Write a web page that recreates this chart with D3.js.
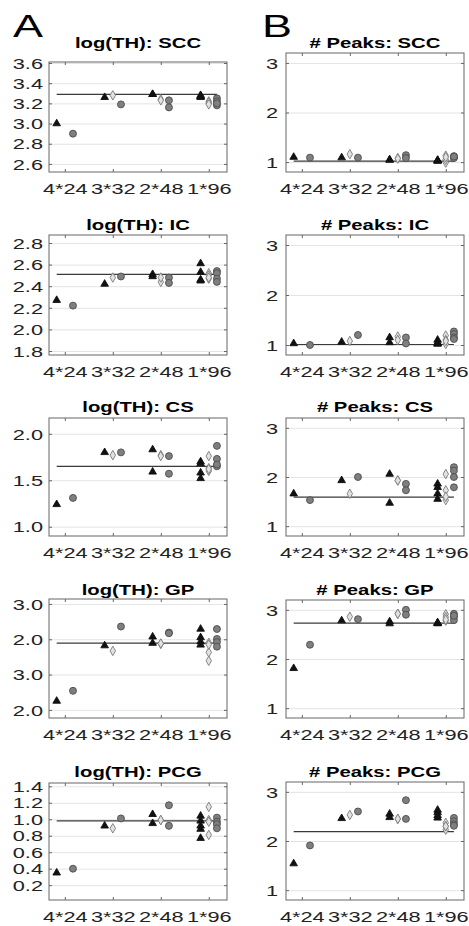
<!DOCTYPE html>
<html>
<head>
<meta charset="utf-8">
<script src="https://cdn.jsdelivr.net/npm/d3@7"></script>
<style>
  html, body { margin: 0; padding: 0; background: #fff; }
  svg { display: block; font-family: "Liberation Sans", Arial, Helvetica, sans-serif; }
</style>
</head>
<body>
<div id="chart"></div>
<script>
// categorias del eje x
const categories = ["4*24", "3*32", "2*48", "1*96"];

// cada panel: [triangulos, rombos, circulos], y dentro un array por categoria
const thSCC = [
  [[3.00], [3.26], [3.29, 3.29], [3.28, 3.27, 3.26, 3.27]],
  [[], [3.28], [3.24, 3.23], [3.22, 3.20, 3.21, 3.19]],
  [[2.90], [3.19], [3.23, 3.16], [3.25, 3.22, 3.18, 3.20]]
];
const thIC = [
  [[2.27], [2.42], [2.51, 2.49], [2.61, 2.53, 2.46, 2.45]],
  [[], [2.48], [2.44, 2.48], [2.52, 2.47, 2.50, 2.48]],
  [[2.22], [2.49], [2.48, 2.43], [2.54, 2.52, 2.47, 2.44]]
];
const thCS = [
  [[1.24], [1.80], [1.83, 1.59], [1.70, 1.68, 1.58, 1.52]],
  [[], [1.77], [1.77, 1.76], [1.76, 1.63, 1.60, 1.62]],
  [[1.31], [1.80], [1.76, 1.57], [1.87, 1.73, 1.65, 1.67]]
];
const thGP = [
  [[1.25], [2.82], [3.07, 2.89], [3.29, 3.05, 2.93, 2.84]],
  [[], [2.67], [2.87, 2.88], [2.63, 2.39, 2.90, 2.85]],
  [[1.54], [3.36], [3.19, 3.17], [3.29, 3.01, 2.92, 2.79]]
];
const thPCG = [
  [[0.35], [0.92], [1.06, 0.95], [1.04, 0.98, 0.92, 0.77, 0.88]],
  [[], [0.89], [0.99, 0.99], [1.15, 0.99, 0.81, 0.97]],
  [[0.40], [1.01], [1.17, 0.92], [1.02, 0.97, 0.94, 0.89]]
];
const pkSCC = [
  [[1.10], [1.09], [1.05, 1.04], [1.03, 1.04, 1.03, 1.02]],
  [[], [1.16], [1.08, 1.07], [1.13, 0.99, 1.05, 1.10]],
  [[1.09], [1.09], [1.14, 1.08], [1.12, 1.10, 1.08, 1.11]]
];
const pkIC = [
  [[1.03], [1.06], [1.15, 1.05], [1.10, 1.05, 1.03, 1.02]],
  [[], [1.08], [1.17, 1.10], [1.19, 1.10, 1.02, 1.08]],
  [[1.00], [1.20], [1.15, 1.03], [1.27, 1.22, 1.15, 1.12]]
];
const pkCS = [
  [[1.66], [1.93], [2.06, 1.47], [1.86, 1.79, 1.66, 1.55]],
  [[], [1.66], [1.93, 1.93], [2.06, 1.73, 1.53, 1.60]],
  [[1.53], [2.00], [1.86, 1.73], [2.20, 2.13, 2.00, 1.79]]
];
const pkGP = [
  [[1.81], [2.78], [2.76, 2.72], [2.73, 2.72, 2.74, 2.73]],
  [[], [2.86], [2.92, 2.92], [2.91, 2.78, 2.85, 2.80]],
  [[2.29], [2.81], [3.00, 2.90], [2.92, 2.86, 2.79, 2.88]]
];
const pkPCG = [
  [[1.54], [2.46], [2.55, 2.48], [2.63, 2.58, 2.52, 2.47]],
  [[], [2.53], [2.45, 2.45], [2.37, 2.23, 2.30, 2.30]],
  [[1.91], [2.60], [2.83, 2.45], [2.47, 2.40, 2.34, 2.31]]
];

// lineas horizontales (media)
const thMeans = [3.29, 2.51, 1.65, 2.89, 0.98];
const pkMeans = [1.02, 1.01, 1.59, 2.73, 2.19];

// titulos
const thTitles = ["log(TH): SCC", "log(TH): IC", "log(TH): CS", "log(TH): GP", "log(TH): PCG"];
const pkTitles = ["# Peaks: SCC", "# Peaks: IC", "# Peaks: CS", "# Peaks: GP", "# Peaks: PCG"];

// ticks y limites del eje y
const thTicks = [
  [2.6, 2.8, 3.0, 3.2, 3.4, 3.6],
  [1.8, 2.0, 2.2, 2.4, 2.6, 2.8],
  [1.0, 1.5, 2.0],
  [1, 2, 3, 4],
  [0.2, 0.4, 0.6, 0.8, 1.0, 1.2, 1.4]
];
const thGPTickLabels = ["2.0", "3.0", "2.0", "3.0"];
const thLimits = [[2.52, 3.61], [1.763, 2.874], [0.90, 2.17], [0.77, 4.14], [0.02, 1.44]];
const pkTicks = [1, 2, 3];
const pkLimits = [0.8, 3.2];

// disposicion
const W = 469, H = 926;
const boxW = 178;
const boxBottom = [172, 355, 536, 718, 900];
const topA = [62, 235, 418, 599, 783];
const topB = [53, 235, 418, 600, 782];
const titleY = [48, 230, 412, 595, 777];
const SX = 1.5; // la figura original esta estirada horizontalmente

const svg = d3.select("#chart").append("svg")
  .attr("width", W)
  .attr("height", H);

// letras de panel
svg.append("text")
  .attr("transform", `translate(13,37) scale(1.45,1)`)
  .attr("font-size", 31)
  .text("A");
svg.append("text")
  .attr("transform", `translate(262,37) scale(1.45,1)`)
  .attr("font-size", 31)
  .text("B");

function drawPanel(left, top, bottom, data, mean, title, ticks, limits, tickFmt, labelGap, tY) {
  const h = bottom - top;
  const g = svg.append("g").attr("transform", `translate(${left},${top})`);

  const x = d3.scaleLinear().domain([0.67, 4.38]).range([0, boxW]);
  const y = d3.scaleLinear().domain(limits).range([h, 0]);

  // rejilla
  g.append("g")
    .call(d3.axisLeft(y).tickValues(ticks).tickSize(-boxW).tickFormat(""))
    .call(a => a.select(".domain").remove())
    .call(a => a.selectAll("line").attr("stroke", "#e4e4e4"));

  // caja
  g.append("rect")
    .attr("width", boxW)
    .attr("height", h)
    .attr("fill", "none")
    .attr("stroke", "#666")
    .attr("stroke-width", 1);

  const xt = [1, 2, 3, 4];

  // eje x abajo
  g.append("g")
    .attr("transform", `translate(0,${h})`)
    .call(d3.axisBottom(x).tickValues(xt).tickSize(-3).tickPadding(11.5)
      .tickFormat((d, i) => categories[i]))
    .call(a => a.select(".domain").remove())
    .call(a => a.selectAll("line").attr("stroke", "#666"))
    .call(a => a.selectAll("text")
      .attr("transform", `scale(${SX},1)`)
      .attr("font-size", 14.5)
      .attr("fill", "#222"));

  // ticks arriba
  g.append("g")
    .call(d3.axisTop(x).tickValues(xt).tickSize(-3).tickFormat(""))
    .call(a => a.select(".domain").remove())
    .call(a => a.selectAll("line").attr("stroke", "#666"));

  // eje y izquierda
  g.append("g")
    .call(d3.axisLeft(y).tickValues(ticks).tickSize(-3).tickFormat(tickFmt))
    .call(a => a.select(".domain").remove())
    .call(a => a.selectAll("line").attr("stroke", "#666"))
    .call(a => a.selectAll("text")
      .attr("x", -labelGap / SX)
      .attr("dy", "0.36em")
      .attr("transform", `scale(${SX},1)`)
      .attr("font-size", 14.5)
      .attr("fill", "#222"));

  // ticks derecha
  g.append("g")
    .attr("transform", `translate(${boxW},0)`)
    .call(d3.axisRight(y).tickValues(ticks).tickSize(-3).tickFormat(""))
    .call(a => a.select(".domain").remove())
    .call(a => a.selectAll("line").attr("stroke", "#666"));

  // titulo
  g.append("text")
    .attr("transform", `translate(${boxW / 2},${tY - top}) scale(1.45,1)`)
    .attr("text-anchor", "middle")
    .attr("font-size", 14)
    .attr("font-weight", "bold")
    .attr("fill", "#000")
    .text(title);

  // linea de la media
  g.append("line")
    .attr("x1", x(1 - 0.17))
    .attr("x2", x(4 + 0.17))
    .attr("y1", y(mean))
    .attr("y2", y(mean))
    .attr("stroke", "#3a3a3a")
    .attr("stroke-width", 1.2);

  const offsets = [-0.17, 0, 0.17];
  const points = [];
  data.forEach((series, s) => {
    series.forEach((vals, c) => {
      vals.forEach(v => points.push({ s: s, x: c + 1 + offsets[s], v: v }));
    });
  });

  const symbols = [
    d3.symbol().type(d3.symbolTriangle).size(25),
    d3.symbol().type(d3.symbolDiamond).size(26),
    d3.symbol().type(d3.symbolCircle).size(38)
  ];
  const fills = ["#111", "#e2e2e2", "#7f7f7f"];
  const strokes = ["#111", "#7a7a7a", "#4d4d4d"];

  // primero rombos y circulos, luego triangulos encima
  [1, 2, 0].forEach(s => {
    g.append("g")
      .selectAll("path")
      .data(points.filter(p => p.s === s))
      .join("path")
        .attr("transform", d => `translate(${x(d.x)},${y(d.v)})`)
        .attr("d", symbols[s])
        .attr("fill", fills[s])
        .attr("stroke", strokes[s])
        .attr("stroke-width", 0.9);
  });
}

const thData = [thSCC, thIC, thCS, thGP, thPCG];
const pkData = [pkSCC, pkIC, pkCS, pkGP, pkPCG];

thData.forEach((d, i) => {
  const fmt = i === 3 ? (v, k) => thGPTickLabels[k] : d3.format(".1f");
  drawPanel(49, topA[i], boxBottom[i], d, thMeans[i], thTitles[i], thTicks[i], thLimits[i], fmt, 6, titleY[i]);
});

pkData.forEach((d, i) => {
  drawPanel(286, topB[i], boxBottom[i], d, pkMeans[i], pkTitles[i], pkTicks, pkLimits, d3.format("d"), 8, titleY[i]);
});
</script>
</body>
</html>
